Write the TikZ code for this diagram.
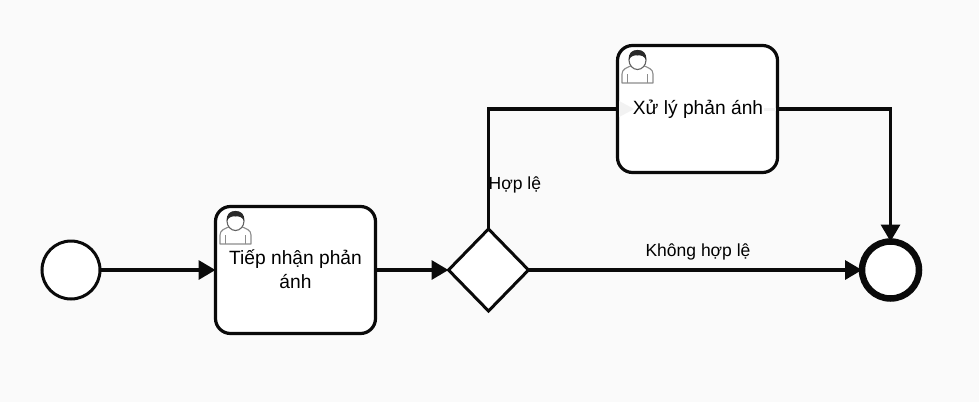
\documentclass[tikz,border=0pt]{standalone}
\usepackage{fontspec}
\setmainfont{Liberation Sans}
\usetikzlibrary{arrows.meta,shapes.geometric}
\definecolor{bgc}{HTML}{FAFAFA}
\definecolor{iconc}{HTML}{8C8C8C}
\definecolor{hairc}{HTML}{2A2A2A}
\definecolor{ink}{HTML}{0A0A0A}
\tikzset{
  startev/.style={circle,draw=ink,fill=white,line width=3pt,minimum size=58pt,inner sep=0pt,outer sep=0pt},
  endev/.style={circle,draw=ink,fill=white,line width=6.5pt,minimum size=57pt,inner sep=0pt,outer sep=0pt},
  taskbox/.style={rectangle,rounded corners=15pt,draw=ink,fill=white,line width=3.2pt,minimum width=160pt,minimum height=127pt,inner sep=0pt,outer sep=0pt,align=center,font=\fontsize{19.2}{24}\selectfont},
  gate/.style={diamond,draw=ink,fill=white,line width=3pt,minimum width=80pt,minimum height=82pt,inner sep=0pt,outer sep=0pt},
  flow/.style={draw=ink,line width=3.4pt,-{Triangle[length=17pt,width=19pt]}},
  plainflow/.style={draw=ink,line width=3.4pt},
  flowlabel/.style={font=\fontsize{17.5}{20}\selectfont,text=black,inner sep=0pt},
  pics/usericon/.style={code={
    \draw[iconc,line width=1.1pt,fill=white,line join=round]
      (0,33) -- (0,24) .. controls (0,19) and (5,17.5) .. (10,15.5)
      -- (21,15.5) .. controls (26,17.5) and (31,19) .. (31,24) -- (31,33) -- cycle;
    \draw[iconc,line width=.9pt] (5.5,33) -- (5.5,24) (25.5,33) -- (25.5,24);
    \draw[iconc!70!black,line width=1.1pt,fill=white] (15.5,10) ellipse (8.5pt and 9.5pt);
    \fill[hairc] (7,10) .. controls (6,2.5) and (10.5,0) .. (15.5,0)
      .. controls (20.5,0) and (25,2.5) .. (24,10)
      .. controls (22.5,6) and (19,5) .. (15.5,5.5)
      .. controls (12,5) and (8.5,6) .. (7,10) -- cycle;
  }}
}
\begin{document}
\begin{tikzpicture}[x=1pt,y=-1pt]
\useasboundingbox (0,0) rectangle (979,402);
\fill[bgc] (0,0) rectangle (979,402);

\node[startev] (start) at (71,270) {};
\node[taskbox] (t1) at (295.5,270) {\raisebox{1pt}{Tiếp nhận phản}\\\raisebox{1pt}{ánh}};
\node[gate] (gw) at (488.5,270) {};
\node[taskbox] (t2) at (697.5,109) {\hspace{1pt}\raisebox{-2pt}{Xử lý phản ánh}};
\node[endev] (finish) at (890.5,270) {};

\coordinate (bendA) at (gw.north |- t2.west);
\coordinate (bendB) at (finish.north |- t2.east);

\draw[flow] (start) -- (t1);
\draw[flow] (t1) -- (gw);
\draw[plainflow,line join=miter] (gw.north) -- (bendA) -- (t2.west);
\draw[flow] (gw.east) -- (finish.west);
\draw[flow] (t2.east) -- (bendB) -- (finish.north);

\fill[black!5] (t2.west) ++(1.6,-8) -- ++(15,8) -- ++(-15,8) -- cycle;
\draw[black!5,line width=3pt] (764,109) -- ([xshift=-1.6pt]t2.east);

\pic at (220,211) {usericon};
\pic at (622,50) {usericon};

\node[flowlabel,anchor=west] (lblA) at (488.5,185) {Hợp lệ};
\node[flowlabel] (lblB) at (698,252) {Không hợp lệ};
\end{tikzpicture}
\end{document}
